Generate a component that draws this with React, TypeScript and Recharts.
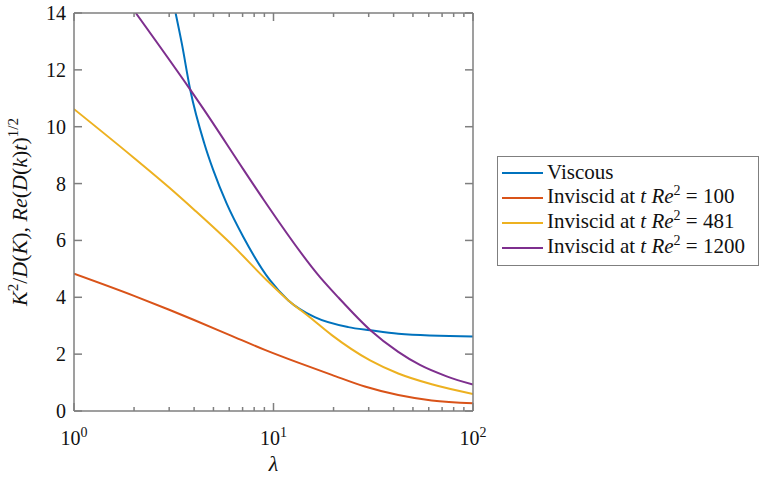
import { LineChart, Line, XAxis, YAxis, Legend } from 'recharts';

const SERIF = "'Liberation Serif', 'Times New Roman', serif";
const AXIS = '#7f7f7f';
const INK = '#111';

// x ticks (log axis) and y ticks
const xTicks = [1, 2, 3, 4, 5, 6, 7, 8, 9, 10, 20, 30, 40, 50, 60, 70, 80, 90, 100];
const xMajor = [1, 10, 100];
const yTicks = [0, 2, 4, 6, 8, 10, 12, 14];

// Viscous
const lambdaViscous = [3.23, 3.47, 3.82, 4.5, 4.99, 5.82, 7.06, 9.6, 11.87, 16.1, 23.7, 30.5, 42.2, 100];
const viscous = [14, 12.93, 11.32, 9.41, 8.47, 7.3, 6.12, 4.6, 3.89, 3.3, 2.95, 2.84, 2.72, 2.62];

// Inviscid at tRe^2 = 100
const lambda100 = [1, 2, 3, 4, 6, 9.05, 13.3, 19.6, 28.7, 42.2, 62.1, 100];
const inviscid100 = [4.83, 4.05, 3.56, 3.2, 2.68, 2.15, 1.7, 1.27, 0.86, 0.56, 0.37, 0.27];

// Inviscid at tRe^2 = 481
const lambda481 = [1, 2, 3, 4, 6.29, 9.25, 11.87, 15.2, 19.6, 30.5, 42.2, 62.1, 100];
const inviscid481 = [10.62, 8.9, 7.86, 7.08, 5.8, 4.6, 3.89, 3.3, 2.67, 1.78, 1.32, 0.94, 0.6];

// Inviscid at tRe^2 = 1200
const lambda1200 = [2.04, 3.81, 4.48, 7.06, 8.89, 17.1, 21.1, 30.5, 42.2, 54.2, 73.8, 100];
const inviscid1200 = [14, 11.32, 10.6, 8.5, 7.45, 4.71, 4.0, 2.85, 2.08, 1.62, 1.22, 0.93];

const tRe2Values = [100, 481, 1200];
const colors = ['#0072BD', '#D95319', '#EDB120', '#7E2F8E'];

const toPoints = (xs: number[], ys: number[]) => xs.map((lambda, i) => ({ lambda, value: ys[i] }));

const series = [
  toPoints(lambdaViscous, viscous),
  toPoints(lambda100, inviscid100),
  toPoints(lambda481, inviscid481),
  toPoints(lambda1200, inviscid1200),
];

const textStyle = { fontFamily: SERIF };

const BottomTick = ({ x, y, payload }: any) => {
  const major = xMajor.includes(payload.value);
  return (
    <g>
      <line x1={x} x2={x} y1={y} y2={y - (major ? 8 : 4)} stroke={AXIS} strokeWidth={1.5} />
      {major && (
        <text x={x} y={y + 34} textAnchor="middle" style={textStyle} fontSize={20} fill={INK}>
          10<tspan dy={-8} fontSize={14}>{Math.round(Math.log10(payload.value))}</tspan>
        </text>
      )}
    </g>
  );
};

const TopTick = ({ x, y, payload }: any) => {
  const major = xMajor.includes(payload.value);
  return <line x1={x} x2={x} y1={y} y2={y + (major ? 8 : 4)} stroke={AXIS} strokeWidth={1.5} />;
};

const LeftTick = ({ x, y, payload }: any) => (
  <g>
    <line x1={x} x2={x + 8} y1={y} y2={y} stroke={AXIS} strokeWidth={1.5} />
    <text x={x - 8} y={y + 7} textAnchor="end" style={textStyle} fontSize={20} fill={INK}>
      {payload.value}
    </text>
  </g>
);

const RightTick = ({ x, y }: any) => <line x1={x} x2={x - 8} y1={y} y2={y} stroke={AXIS} strokeWidth={1.5} />;

const XLabel = ({ viewBox }: any) => (
  <text x={viewBox.x + viewBox.width / 2} y={viewBox.y + 60} textAnchor="middle" style={textStyle} fontSize={22} fontStyle="italic" fill={INK}>
    λ
  </text>
);

const YLabel = ({ viewBox }: any) => {
  const cx = 27;
  const cy = viewBox.y + viewBox.height / 2;
  const it = { fontStyle: 'italic' as const };
  return (
    <text x={cx} y={cy} transform={`rotate(-90 ${cx} ${cy})`} textAnchor="middle" style={textStyle} fontSize={22} fill={INK}>
      <tspan {...it}>K</tspan>
      <tspan dy={-9} fontSize={15}>2</tspan>
      <tspan dy={9}>/</tspan>
      <tspan {...it}>D</tspan>(<tspan {...it}>K</tspan>), <tspan {...it}>Re</tspan>(<tspan {...it}>D</tspan>(<tspan {...it}>k</tspan>)<tspan {...it}>t</tspan>)
      <tspan dy={-9} fontSize={15}>1/2</tspan>
    </text>
  );
};

const LegendBox = () => (
  <div
    style={{
      width: 262,
      height: 110,
      border: `1.5px solid ${AXIS}`,
      background: '#fff',
      fontFamily: SERIF,
      fontSize: 21,
      color: INK,
      paddingTop: 3,
      boxSizing: 'border-box',
    }}
  >
    {colors.map((c, i) => (
      <div key={i} style={{ display: 'flex', alignItems: 'center', height: 25, lineHeight: '25px', whiteSpace: 'nowrap' }}>
        <span style={{ display: 'inline-block', width: 41, height: 2, background: c, marginLeft: 4, marginRight: 4 }} />
        {i === 0 ? (
          <span>Viscous</span>
        ) : (
          <span>
            Inviscid at <i>t</i> <i>Re</i>
            <span style={{ fontSize: 14, position: 'relative', top: -8 }}>2</span> = {tRe2Values[i - 1]}
          </span>
        )}
      </div>
    ))}
  </div>
);

export default function App() {
  return (
    <div style={{ width: 760, height: 477, position: 'relative', background: '#fff' }}>
      <style>{'body{margin:0}'}</style>
      <LineChart width={760} height={477} margin={{ top: 12, right: 286, bottom: 65, left: 73 }}>
        <XAxis
          xAxisId="top"
          orientation="top"
          dataKey="lambda"
          type="number"
          scale="log"
          domain={[1, 100]}
          allowDataOverflow
          ticks={xTicks}
          interval={0}
          height={1}
          tickSize={0}
          tickMargin={0}
          tickLine={false}
          tick={<TopTick />}
          axisLine={{ stroke: AXIS, strokeWidth: 1.5 }}
        />
        <XAxis
          xAxisId="bottom"
          dataKey="lambda"
          type="number"
          scale="log"
          domain={[1, 100]}
          allowDataOverflow
          ticks={xTicks}
          interval={0}
          height={1}
          tickSize={0}
          tickMargin={0}
          tickLine={false}
          tick={<BottomTick />}
          axisLine={{ stroke: AXIS, strokeWidth: 1.5 }}
          label={<XLabel />}
        />
        <YAxis
          yAxisId="left"
          type="number"
          domain={[0, 14]}
          allowDataOverflow
          ticks={yTicks}
          interval={0}
          width={1}
          tickSize={0}
          tickMargin={0}
          tickLine={false}
          tick={<LeftTick />}
          axisLine={{ stroke: AXIS, strokeWidth: 1.5 }}
          label={<YLabel />}
        />
        <YAxis
          yAxisId="right"
          orientation="right"
          type="number"
          domain={[0, 14]}
          allowDataOverflow
          ticks={yTicks}
          interval={0}
          width={1}
          tickSize={0}
          tickMargin={0}
          tickLine={false}
          tick={<RightTick />}
          axisLine={{ stroke: AXIS, strokeWidth: 1.5 }}
        />
        {series.map((pts, i) => (
          <Line
            key={i}
            data={pts}
            dataKey="value"
            xAxisId="bottom"
            yAxisId="left"
            type="monotone"
            stroke={colors[i]}
            strokeWidth={2}
            dot={false}
            activeDot={false}
            isAnimationActive={false}
          />
        ))}
        <Legend
          layout="vertical"
          align="center"
          verticalAlign="middle"
          content={<LegendBox />}
          wrapperStyle={{ position: 'absolute', left: 497, top: 156, width: 262, height: 110 }}
        />
      </LineChart>
    </div>
  );
}
